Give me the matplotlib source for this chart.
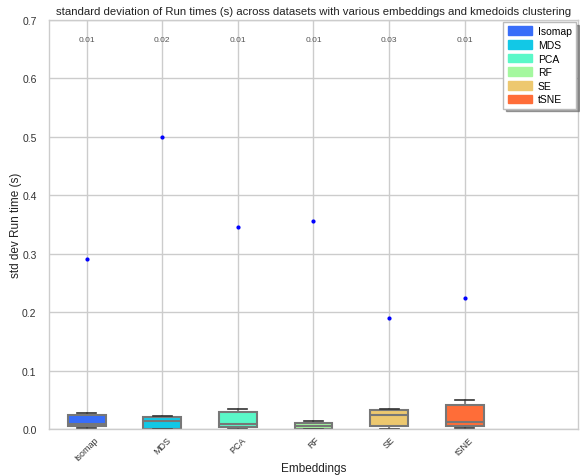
import matplotlib
matplotlib.use("Agg")
import matplotlib.pyplot as plt
from matplotlib.patches import Patch
import numpy as np

plt.rcParams['font.family'] = ['Liberation Sans', 'DejaVu Sans']

# Per-embedding box statistics of std dev of run times (s)
embeddings = ["Isomap", "MDS", "PCA", "RF", "SE", "tSNE"]
whisker_low = [0.0026, 0.0014, 0.0008, 0.0005, 0.0003, 0.0020]
q1 = [0.0055, 0.0014, 0.0037, 0.0010, 0.0060, 0.0055]
medians = [0.0099, 0.0152, 0.0094, 0.0065, 0.0251, 0.0123]
q3 = [0.0243, 0.0222, 0.0294, 0.0117, 0.0340, 0.0424]
whisker_high = [0.0277, 0.0226, 0.0356, 0.0140, 0.0356, 0.0504]
outliers = [[0.292], [0.500], [0.346], [0.356], [0.191], [0.224]]
median_labels = [f"{m:.2f}" for m in medians]

cmap = plt.get_cmap("rainbow")
colors = [cmap(x) for x in np.linspace(0, 1, len(embeddings) + 2)[1:-1]]

fig = plt.figure(figsize=(5.8, 4.77), dpi=100)
ax = fig.add_axes([0.0845, 0.0975, 0.912, 0.8585])
ax.set_facecolor("white")

stats = []
for i, name in enumerate(embeddings):
    stats.append(dict(label=name, whislo=whisker_low[i], q1=q1[i], med=medians[i],
                      q3=q3[i], whishi=whisker_high[i], fliers=outliers[i]))

positions = np.arange(len(embeddings))
bp = ax.bxp(stats, positions=positions, widths=0.5, patch_artist=True,
            boxprops=dict(edgecolor="#777777", linewidth=1.5),
            medianprops=dict(color="#777777", linewidth=1.5),
            whiskerprops=dict(color="#777777", linewidth=1.2),
            capprops=dict(color="#333333", linewidth=1.2),
            flierprops=dict(marker="o", markersize=2, markerfacecolor="blue",
                            markeredgecolor="blue", linestyle="none"))
for patch, c in zip(bp["boxes"], colors):
    patch.set_facecolor(c)

for pos, lab in zip(positions, median_labels):
    ax.text(pos, 0.666, lab, ha="center", va="center", fontsize=6, color="#555555")

ax.set_xlim(-0.5, 6.5)
ax.set_ylim(0, 0.7)
ax.set_xticks(positions)
ax.set_xticklabels(embeddings, rotation=45, fontsize=6.5, color="#333333")
ax.set_yticks(np.arange(0, 0.71, 0.1))
ax.set_yticklabels([f"{v:.1f}" for v in np.arange(0, 0.71, 0.1)], fontsize=7.5, color="#333333")
ax.tick_params(axis="x", length=0, pad=4)
ax.tick_params(axis="y", length=0, pad=9)
ax.grid(True, color="#cccccc", linewidth=1)
ax.set_axisbelow(True)
for sp in ax.spines.values():
    sp.set_color("#cccccc")
    sp.set_linewidth(1)

ax.set_xlabel("Embeddings", fontsize=8.5, color="#222222", labelpad=0)
ax.set_ylabel("std dev Run time (s)", fontsize=8.5, color="#222222", labelpad=0)
ax.set_title("standard deviation of Run times (s) across datasets with various embeddings and kmedoids clustering",
             fontsize=8.2, color="#222222", pad=4)

handles = [Patch(facecolor=c, edgecolor=c, label=n) for n, c in zip(embeddings, colors)]
leg = ax.legend(handles=handles, loc="upper right", fontsize=7.5, frameon=True,
                shadow=True, fancybox=False, borderaxespad=0.2, handlelength=2.3,
                handleheight=0.9, labelspacing=0.35, handletextpad=0.6)
leg.get_frame().set_edgecolor("#bbbbbb")

fig.savefig("out.png", dpi=100, facecolor="white")
